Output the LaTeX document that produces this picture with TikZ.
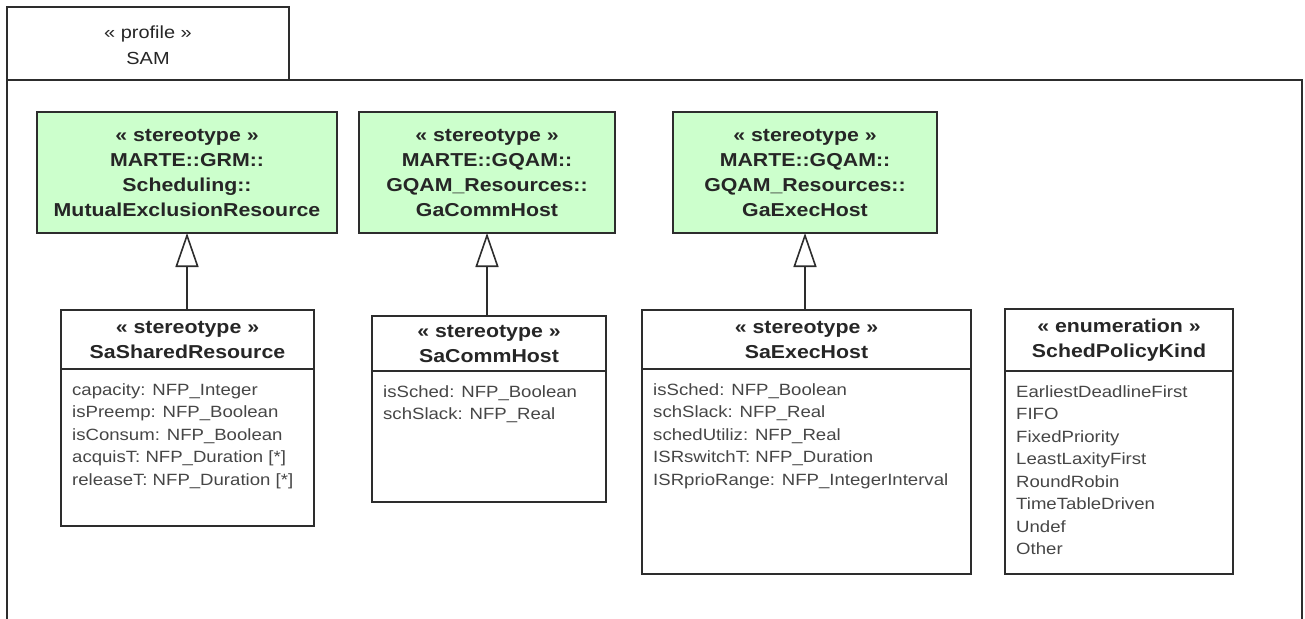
\documentclass[tikz,border=0pt]{standalone}
\usepackage{fontspec}
\setmainfont[FakeStretch=1.14]{Liberation Sans}
\usetikzlibrary{arrows.meta}
\definecolor{stereoGreen}{RGB}{204,255,204}
\definecolor{umlLine}{RGB}{45,45,45}
\definecolor{umlText}{RGB}{70,70,70}
\tikzstyle{pkgline}=[draw=umlLine,line width=1.8pt]
\tikzstyle{boxline}=[draw=umlLine,line width=1.8pt]
\tikzstyle{metaclass}=[
    draw=umlLine,line width=2pt,fill=stereoGreen,
    anchor=north west,inner sep=0pt,outer sep=0pt,align=center,
    font=\fontsize{18.7}{25}\selectfont\bfseries,text=black!85
    ]
\tikzstyle{classbox}=[draw=umlLine,line width=2pt,fill=white,anchor=north west,inner sep=0pt,outer sep=0pt]
\tikzstyle{headtext}=[inner sep=0pt,align=center,font=\fontsize{18.7}{25}\selectfont\bfseries,text=black!85]
\tikzstyle{listtext}=[inner sep=0pt,anchor=north west,align=left,font=\fontsize{16.3}{22.5}\selectfont,text=umlText]
\tikzstyle{pkgtitle}=[inner sep=0pt,align=center,font=\fontsize{17.5}{26}\selectfont,text=black!85]
\tikzstyle{generalize}=[draw=umlLine,line width=1.6pt,-{Triangle[open,length=34pt,width=23pt,line width=1.6pt]}]
% #1 name, #2 left, #3 top, #4 right, #5 bottom, #6 divider, #7 header, #8 list
\newcommand{\stereoClass}[8]{
\node[classbox,minimum width={#4pt-#2pt},minimum height={#5pt-#3pt}] (#1) at (#2,#3) {};
\draw[boxline] (#2,#6) -- (#4,#6);
\node[headtext] (#1-head) at ({(#2+#4)/2},{(#3+#6)/2}) {#7};
\node[listtext] (#1-list) at (#2+11,#6+14) {#8};
}

\begin{document}
\begin{tikzpicture}[x=1pt,y=-1pt]
\useasboundingbox (0,0) rectangle (1305,618);
%package frame
\draw[pkgline] (7,7) rectangle (289,80);
\draw[pkgline] (7,640) -- (7,80) -- (1302,80) -- (1302,640);
\node[pkgtitle] (sam) at (148,45) {« profile »\\SAM};
%metaclasses
\node[metaclass,minimum width=300pt,minimum height=121pt] (mer) at (37,112)
    {« stereotype »\\MARTE::GRM::\\Scheduling::\\MutualExclusionResource};
\node[metaclass,minimum width=256pt,minimum height=121pt] (gaComm) at (359,112)
    {« stereotype »\\MARTE::GQAM::\\GQAM\_Resources::\\GaCommHost};
\node[metaclass,minimum width=264pt,minimum height=121pt] (gaExec) at (673,112)
    {« stereotype »\\MARTE::GQAM::\\GQAM\_Resources::\\GaExecHost};
%stereotypes
\stereoClass{saShared}{61}{310}{314}{526}{369}{« stereotype »\\SaSharedResource}
    {capacity: NFP\_Integer\\isPreemp: NFP\_Boolean\\isConsum: NFP\_Boolean\\acquisT: NFP\_Duration [*]\\releaseT: NFP\_Duration [*]}
\stereoClass{saComm}{372}{316}{606}{502}{371}{« stereotype »\\SaCommHost}
    {isSched: NFP\_Boolean\\schSlack: NFP\_Real}
\stereoClass{saExec}{642}{310}{971}{574}{369}{« stereotype »\\SaExecHost}
    {isSched: NFP\_Boolean\\schSlack: NFP\_Real\\schedUtiliz: NFP\_Real\\ISRswitchT: NFP\_Duration\\ISRprioRange: NFP\_IntegerInterval}
\stereoClass{schedKind}{1005}{309}{1233}{574}{371}{« enumeration »\\SchedPolicyKind}
    {EarliestDeadlineFirst\\FIFO\\FixedPriority\\LeastLaxityFirst\\RoundRobin\\TimeTableDriven\\Undef\\Other}
%extensions
\draw[generalize] (saShared.north -| mer.south) -- (mer.south);
\draw[generalize] (saComm.north -| gaComm.south) -- (gaComm.south);
\draw[generalize] (saExec.north -| gaExec.south) -- (gaExec.south);
\end{tikzpicture}
\end{document}
